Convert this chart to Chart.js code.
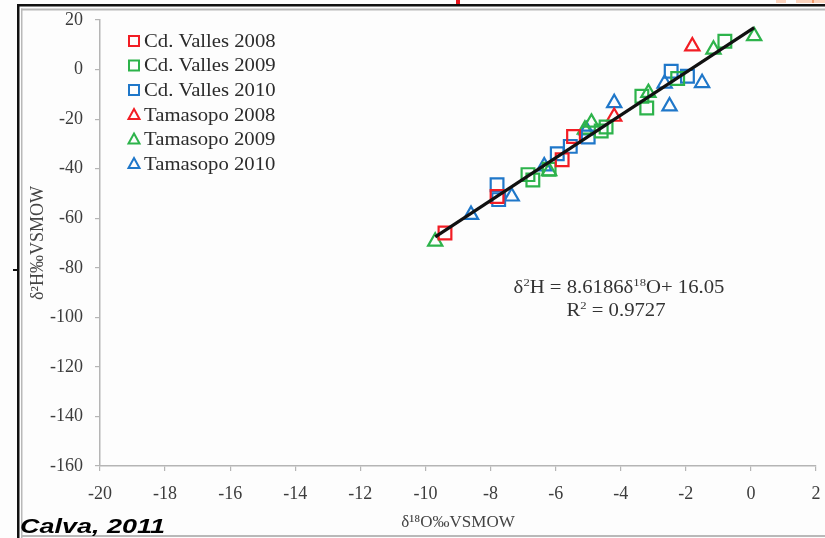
<!DOCTYPE html>
<html>
<head>
<meta charset="utf-8">
<script src="https://cdn.jsdelivr.net/npm/chart.js@4/dist/chart.umd.min.js"></script>
<style>
  html, body { margin: 0; padding: 0; background: #ffffff; }
  #wrap { width: 825px; height: 538px; position: relative; }
</style>
</head>
<body>
<div id="wrap"><canvas id="c" width="825" height="538"></canvas></div>
<script>
// δ18O (x) vs δ2H (y), ‰ VSMOW, per site and year
const cdValles2008 = [[-9.4, -66], [-7.8, -51.2], [-5.8, -36.4], [-5.45, -27]];
const cdValles2009 = [[-0.8, 11.4], [-3.35, -10.8], [-3.2, -15.5], [-4.45, -23.2], [-4.6, -24.8],
                      [-6.85, -42.4], [-6.7, -44.6], [-6.2, -40.2], [-2.25, -3.6]];
const cdValles2010 = [[-2.45, -0.7], [-1.95, -2.7], [-7.8, -46.5], [-7.75, -52.5],
                      [-5.95, -34], [-5.55, -31], [-5.0, -27.2]];
const tamasopo2008 = [[-1.8, 9.4], [-4.2, -19]];
const tamasopo2009 = [[-9.7, -69.4], [0.1, 13.5], [-1.15, 8.1], [-3.15, -9.4],
                      [-4.9, -21.4], [-5.1, -24.2], [-6.2, -41]];
const tamasopo2010 = [[-4.2, -13.5], [-2.5, -14.8], [-1.5, -5.4], [-2.65, -5.6],
                      [-7.35, -51.2], [-8.6, -58.6], [-6.35, -39], [-5.05, -24.5]];

// meteoric water line fitted to all samples
const slope = 8.6186;
const intercept = 16.05;
const rSquared = 0.9727;
const fitRange = [-9.7, 0.1];

const xTicks = [-20, -18, -16, -14, -12, -10, -8, -6, -4, -2, 0, 2];
const yTicks = [-160, -140, -120, -100, -80, -60, -40, -20, 0, 20];

const RED = '#f21d24', GREEN = '#2db34b', BLUE = '#1f77c9';

const toPts = arr => arr.map(p => ({ x: p[0], y: p[1] }));
const fitLine = fitRange.map(x => ({ x: x, y: slope * x + intercept }));

function series(label, data, color, shape) {
  return {
    type: 'scatter', label, data: toPts(data), order: 1,
    pointStyle: shape, pointRadius: shape === 'rect' ? 9 : 8.2, pointHoverRadius: 9,
    borderColor: color, backgroundColor: 'rgba(0,0,0,0)', pointBorderWidth: 2.2
  };
}

const datasets = [
  { type: 'line', label: 'fit', data: fitLine, order: 0, borderColor: '#111111',
    borderWidth: 3.2, pointRadius: 0, fill: false, tension: 0 },
  series('Cd. Valles 2008', cdValles2008, RED, 'rect'),
  series('Cd. Valles 2009', cdValles2009, GREEN, 'rect'),
  series('Cd. Valles 2010', cdValles2010, BLUE, 'rect'),
  series('Tamasopo 2008', tamasopo2008, RED, 'triangle'),
  series('Tamasopo 2009', tamasopo2009, GREEN, 'triangle'),
  series('Tamasopo 2010', tamasopo2010, BLUE, 'triangle')
];

const SERIF = '"Liberation Serif", "Times New Roman", serif';
const WIDEN = 1.15; // horizontal stretch of the annotation text

// slide frame around the figure
const framePlugin = {
  id: 'frame',
  beforeDraw(chart) {
    const ctx = chart.ctx;
    ctx.save();
    ctx.fillStyle = '#fdfdfd';
    ctx.fillRect(0, 0, 825, 538);
    // outer black rule
    ctx.fillStyle = '#111';
    ctx.fillRect(17, 4, 808, 2.5);
    ctx.fillRect(17, 4, 2.5, 534);
    ctx.fillRect(13, 269, 5, 2);
    // inner grey rule
    ctx.fillStyle = '#b9b9b9';
    ctx.fillRect(21, 8.5, 804, 2);
    ctx.fillRect(21, 8.5, 1.5, 530);
    ctx.fillRect(21, 535, 804, 2);
    // bits of neighbouring slide content
    ctx.fillStyle = '#e8141c';
    ctx.fillRect(456, 0, 4, 4);
    ctx.fillStyle = '#fbd3bd';
    ctx.fillRect(776, 0, 10, 3);
    ctx.fillRect(796, 0, 29, 3);
    ctx.fillStyle = '#f29a6a';
    ctx.fillRect(812, 0, 2, 3);
    ctx.restore();
  }
};

// draws runs of [text, isSuperscript] centred on cx, stretched horizontally
function drawRuns(ctx, runs, cx, baseY, size, sx) {
  const fontOf = sup => (sup ? Math.round(size * 0.62) : size) + 'px ' + SERIF;
  let total = 0;
  runs.forEach(r => { ctx.font = fontOf(r[1]); total += ctx.measureText(r[0]).width; });
  ctx.save();
  ctx.translate(cx, baseY);
  ctx.scale(sx, 1);
  let x = -total / 2;
  runs.forEach(r => {
    ctx.font = fontOf(r[1]);
    ctx.textAlign = 'left';
    ctx.textBaseline = 'alphabetic';
    ctx.fillText(r[0], x, r[1] ? -size * 0.38 : 0);
    x += ctx.measureText(r[0]).width;
  });
  ctx.restore();
}

// legend inside the plot area, equation and source note
const notesPlugin = {
  id: 'notes',
  afterDatasetsDraw(chart) {
    const ctx = chart.ctx;
    ctx.save();
    const rowY = [41, 65.5, 90, 115, 139.5, 164];
    const mx = 134, tx = 144;
    chart.data.datasets.slice(1).forEach((ds, i) => {
      const y = rowY[i];
      ctx.strokeStyle = ds.borderColor;
      ctx.lineWidth = 2;
      ctx.beginPath();
      if (ds.pointStyle === 'rect') {
        ctx.rect(mx - 5, y - 5, 10, 10);
      } else {
        ctx.moveTo(mx, y - 6);
        ctx.lineTo(mx + 5.5, y + 4);
        ctx.lineTo(mx - 5.5, y + 4);
        ctx.closePath();
      }
      ctx.stroke();
      ctx.save();
      ctx.translate(tx, y + 1);
      ctx.scale(WIDEN, 1);
      ctx.fillStyle = '#2b2b2b';
      ctx.font = '18px ' + SERIF;
      ctx.textAlign = 'left';
      ctx.textBaseline = 'middle';
      ctx.fillText(ds.label, 0, 0);
      ctx.restore();
    });

    // regression equation
    ctx.fillStyle = '#333';
    drawRuns(ctx, [['δ', 0], ['2', 1], ['H = ' + slope.toFixed(4) + 'δ', 0], ['18', 1], ['O+ ' + intercept.toFixed(2), 0]],
             619, 293, 18, WIDEN);
    drawRuns(ctx, [['R', 0], ['2', 1], [' = ' + rSquared.toFixed(4), 0]], 616, 316, 18, WIDEN);

    // source
    ctx.fillStyle = '#000';
    ctx.font = 'italic bold 21px "Liberation Sans", Arial, sans-serif';
    ctx.textAlign = 'left';
    ctx.textBaseline = 'alphabetic';
    const w = ctx.measureText('Calva, 2011').width;
    ctx.translate(20, 533);
    ctx.scale(145 / w, 1);
    ctx.fillText('Calva, 2011', 0, 0);
    ctx.restore();
  }
};

new Chart(document.getElementById('c'), {
  data: { datasets },
  plugins: [framePlugin, notesPlugin],
  options: {
    responsive: false,
    animation: false,
    layout: { autoPadding: false, padding: { left: 22, top: 20, right: 9, bottom: 0 } },
    plugins: { legend: { display: false }, tooltip: { enabled: false } },
    scales: {
      x: {
        type: 'linear', min: -20, max: 2,
        afterBuildTicks: s => { s.ticks = xTicks.map(v => ({ value: v })); },
        afterFit: s => { s.height = 72; s.paddingLeft = 0; s.paddingRight = 0; },
        grid: { display: true, drawOnChartArea: false, drawTicks: true, tickLength: 5, color: '#b5b5b5', lineWidth: 1.2 },
        border: { display: true, color: '#b5b5b5', width: 1.5 },
        ticks: { color: '#3c3c3c', font: { family: SERIF, size: 18 }, padding: 12, maxRotation: 0, autoSkip: false },
        title: { display: true, text: 'δ¹⁸O‰VSMOW', color: '#444', font: { family: SERIF, size: 17 }, padding: { top: 0, bottom: 5 } }
      },
      y: {
        type: 'linear', min: -160, max: 20,
        afterBuildTicks: s => { s.ticks = yTicks.map(v => ({ value: v })); },
        afterFit: s => { s.width = 78; s.paddingTop = 0; s.paddingBottom = 0; },
        grid: { display: true, drawOnChartArea: false, drawTicks: true, tickLength: 5, color: '#b5b5b5', lineWidth: 1.2 },
        border: { display: true, color: '#b5b5b5', width: 1.5 },
        ticks: { color: '#3c3c3c', font: { family: SERIF, size: 18 }, padding: 12, autoSkip: false },
        title: { display: true, text: 'δ²H‰VSMOW', color: '#444', font: { family: SERIF, size: 18 }, padding: { top: 5, bottom: 0 } }
      }
    }
  }
});
</script>
</body>
</html>
